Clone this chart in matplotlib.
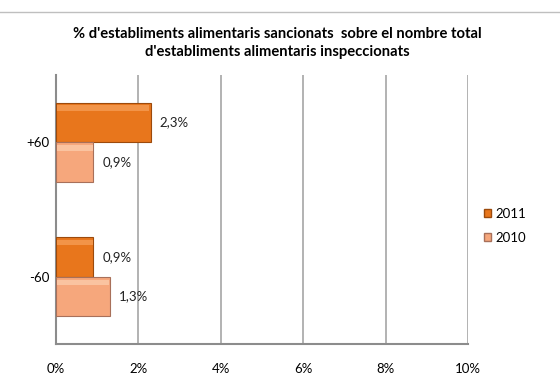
import numpy as np
import matplotlib.pyplot as plt
from matplotlib.lines import Line2D

plt.rcParams['font.family'] = ['Lato', 'DejaVu Sans']

categories = ['+60', '-60']
vals_2011 = [2.3, 0.9]
vals_2010 = [0.9, 1.3]
series_names = ['2011', '2010']
xticks = [0, 2, 4, 6, 8, 10]

col_2011 = '#E8761C'
col_2010 = '#F6A77C'
edge_2011 = '#9C4A0C'
edge_2010 = '#A8705A'

fig = plt.figure(figsize=(5.6, 3.83), dpi=100)
ax = fig.add_axes([0.1, 0.1018, 0.7357, 0.7023])

y = np.arange(len(categories))  # 0 -> top
h = 0.295
ax.barh(y - h / 2, vals_2011, height=h, color=col_2011, edgecolor=edge_2011, linewidth=0.8, label=series_names[0], zorder=3)
ax.barh(y + h / 2, vals_2010, height=h, color=col_2010, edgecolor=edge_2010, linewidth=0.8, label=series_names[1], zorder=3)

# soft highlight near top of bars (bevel look)
for vals, off, hl in [(vals_2011, -h / 2, '#F29448'), (vals_2010, h / 2, '#FAC3A0')]:
    for i, v in enumerate(vals):
        ax.barh(y[i] + off - h * 0.36, v * 0.97, height=h * 0.14, left=v * 0.015,
                color=hl, linewidth=0, zorder=4)

for vals, off in [(vals_2011, -h / 2), (vals_2010, h / 2)]:
    for i, v in enumerate(vals):
        ax.text(v + 0.22, y[i] + off, ('%.1f%%' % v).replace('.', ','),
                va='center', ha='left', fontsize=9.5, color='#222222', zorder=5)

ax.set_xlim(0, 10)
ax.set_ylim(1.5, -0.5)
ax.set_xticks(xticks)
ax.set_xticklabels(['%d%%' % t for t in xticks], fontsize=9.5)
ax.set_yticks(y)
ax.set_yticklabels(categories, fontsize=9.5)
ax.tick_params(axis='y', length=0, pad=5)
ax.tick_params(axis='x', length=0, pad=14)
ax.grid(axis='x', color='#A6A6A6', linewidth=1.2, zorder=0)
for s in ['top', 'right']:
    ax.spines[s].set_visible(False)
for s in ['left', 'bottom']:
    ax.spines[s].set_color('#8C8C8C')
    ax.spines[s].set_linewidth(1.5)

handles = [plt.Rectangle((0, 0), 1, 1, color=col_2011, ec=edge_2011),
           plt.Rectangle((0, 0), 1, 1, color=col_2010, ec=edge_2010)]
fig.legend(handles, series_names, loc='center left', bbox_to_anchor=(0.843, 0.41),
           frameon=False, fontsize=9.5, handlelength=0.55, handleheight=0.55,
           handletextpad=0.3, labelspacing=0.9)

fig.text(0.496, 0.888, "% d'establiments alimentaris sancionats  sobre el nombre total\nd'establiments alimentaris inspeccionats",
         ha='center', va='center', fontsize=10.6, fontweight='bold', linespacing=1.3)

fig.add_artist(Line2D([0, 1], [1 - 12 / 383, 1 - 12 / 383], color='#BFBFBF', linewidth=1))

fig.savefig('out.png', dpi=100)
